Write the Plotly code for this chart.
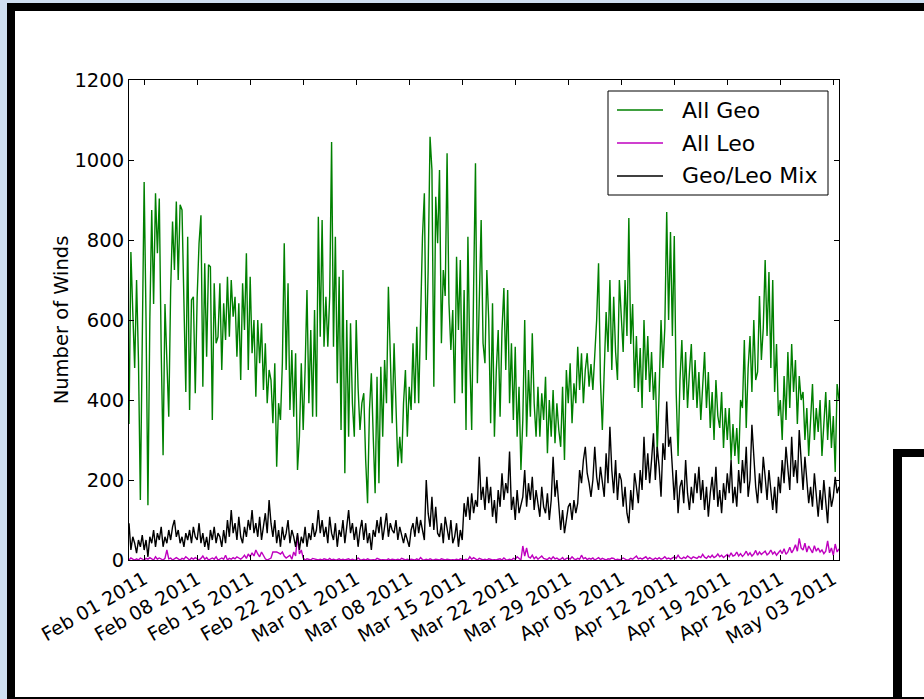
import pandas as pd
import plotly.graph_objects as go

# 6-hourly samples, Jan 30 2011 00:00 .. May 03 2011 18:00 (4 values per day)
start_date = "2011-01-30"

all_geo = [
    340, 770, 620, 480,   # Jan 30
    700, 500, 150, 640,   # Jan 31
    945, 600, 137, 600,   # Feb 01
    875, 640, 917, 767,
    904, 525, 262, 640,
    517, 358, 675, 846,
    725, 896, 700, 888,
    875, 617, 420, 808,
    375, 650, 658, 417,
    658, 792, 862, 433,   # Feb 08
    742, 508, 738, 733,
    350, 692, 542, 558,
    692, 475, 642, 550,
    708, 558, 700, 608,
    658, 508, 642, 450,
    692, 575, 767, 475,
    708, 517, 600, 408,   # Feb 15
    600, 492, 592, 425,
    542, 392, 475, 450,
    342, 492, 233, 392,
    350, 492, 792, 475,
    692, 375, 525, 358,
    517, 225, 308, 492,
    325, 475, 675, 392,   # Feb 22
    575, 358, 625, 358,
    858, 558, 850, 533,
    658, 533, 660, 1045,
    533, 808, 442, 708,
    325, 725, 217, 600,
    308, 592, 392, 308,
    600, 430, 325, 392,   # Mar 01
    417, 250, 142, 375,
    467, 308, 167, 458,
    192, 483, 308, 500,
    392, 683, 475, 342,
    542, 392, 233, 308,
    242, 392, 475, 308,
    433, 375, 542, 392,   # Mar 08
    583, 392, 575, 808,
    917, 500, 725, 1058,
    975, 433, 908, 792,
    975, 542, 725, 660,
    1017, 642, 525, 625,
    392, 758, 575, 750,
    417, 675, 325, 808,   # Mar 15
    508, 325, 675, 992,
    442, 675, 850, 542,
    492, 725, 600, 342,
    642, 308, 475, 575,
    358, 575, 680, 475,
    675, 392, 542, 350,
    533, 308, 433, 225,   # Mar 22
    350, 600, 308, 475,
    358, 567, 392, 308,
    433, 308, 417, 350,
    458, 267, 400, 308,
    425, 292, 392, 325,
    283, 433, 250, 475,
    392, 492, 342, 442,   # Mar 29
    392, 533, 425, 517,
    392, 475, 517, 433,
    490, 425, 508, 600,   # Apr 01
    742, 450, 325, 475,
    620, 520, 700, 475,
    658, 520, 450, 700,
    620, 520, 700, 560,   # Apr 05
    855, 540, 640, 430,
    560, 420, 530, 380,
    600, 450, 560, 420,
    520, 400, 470, 270,
    420, 600, 480, 580,
    870, 600, 820, 560,
    810, 420, 260, 450,   # Apr 12
    550, 400, 520, 380,
    470, 540, 400, 500,
    380, 470, 350, 430,
    520, 380, 470, 330,
    420, 300, 450, 360,
    330, 420, 280, 380,
    300, 380, 250, 340,   # Apr 19
    260, 330, 240, 400,
    380, 550, 330, 480,
    560, 420, 600, 450,
    470, 660, 500, 580,
    750, 560, 720, 480,
    700, 420, 540, 360,
    400, 300, 460, 350,   # Apr 26
    520, 380, 540, 420,
    500, 340, 460, 400,
    420, 300, 380, 260,
    360, 440, 300, 380,
    320, 400, 260, 350,   # May 01
    420, 300, 400, 280,
    360, 220, 440, 400,   # May 03
]

all_leo = [
    0, 5, 2, 0,     # Jan 30
    3, 0, 5, 2,
    0, 4, 2, 6,     # Feb 01
    3, 0, 8, 2,
    5, 2, 0, 4,
    25, 3, 5, 0,
    2, 6, 3, 0,
    4, 2, 8, 3,
    0, 5, 2, 6,
    3, 0, 4, 10,    # Feb 08
    2, 6, 0, 3,
    5, 2, 8, 0,
    3, 5, 2, 12,
    0, 4, 2, 6,
    3, 8, 5, 2,
    6, 12, 4, 15,
    8, 18, 10, 25,  # Feb 15
    15, 8, 20, 10,
    3, 0, 2, 5,
    20, 20, 20, 18,
    15, 20, 10, 5,
    8, 12, 2, 20,
    10, 62, 15, 25,
    5, 0, 3, 2,     # Feb 22
    0, 4, 2, 0,
    0, 2, 0, 3,
    1, 0, 4, 0,
    2, 0, 1, 3,
    0, 2, 0, 1,
    3, 0, 2, 0,
    0, 5, 1, 0,     # Mar 01
    2, 0, 3, 1,
    0, 1, 0, 4,
    2, 0, 1, 0,
    0, 3, 0, 2,
    1, 0, 2, 0,
    4, 1, 0, 2,
    0, 2, 1, 0,     # Mar 08
    3, 0, 6, 1,
    0, 2, 0, 3,
    1, 0, 2, 0,
    0, 3, 1, 0,
    2, 0, 0, 1,
    0, 2, 0, 3,
    1, 0, 2, 0,     # Mar 15
    8, 2, 6, 3,
    0, 4, 1, 0,
    2, 0, 3, 1,
    0, 1, 0, 2,
    3, 0, 5, 1,
    0, 2, 0, 4,
    2, 8, 3, 0,     # Mar 22
    35, 10, 30, 8,
    5, 12, 3, 8,
    2, 6, 10, 4,
    3, 1, 6, 2,
    8, 3, 5, 1,
    2, 6, 0, 4,
    5, 2, 8, 3,     # Mar 29
    1, 4, 2, 12,
    3, 6, 1, 4,
    2, 5, 0, 3,     # Apr 01
    6, 1, 4, 2,
    0, 3, 2, 5,
    4, 0, 2, 1,
    2, 5, 3, 0,     # Apr 05
    1, 4, 2, 6,
    10, 3, 5, 2,
    4, 8, 2, 6,
    3, 1, 5, 2,
    6, 2, 4, 8,
    3, 5, 2, 6,
    8, 4, 12, 5,    # Apr 12
    3, 7, 4, 10,
    6, 3, 8, 5,
    4, 9, 6, 14,
    7, 4, 10, 6,
    12, 6, 9, 15,
    8, 12, 6, 10,
    14, 8, 18, 10,  # Apr 19
    12, 20, 10, 16,
    9, 14, 22, 12,
    18, 10, 15, 24,
    12, 20, 14, 18,
    22, 13, 17, 25,
    15, 20, 12, 18,
    24, 16, 28, 14, # Apr 26
    20, 32, 18, 26,
    38, 22, 54, 30,
    25, 42, 20, 35,
    28, 18, 36, 22,
    30, 20, 25, 16, # May 01
    22, 48, 18, 30,
    12, 40, 20, 28, # May 03
]

geo_leo_mix = [
    92, 25, 58, 42,     # Jan 30
    17, 50, 33, 62,
    25, 50, 8, 58,      # Feb 01
    42, 75, 33, 67,
    50, 83, 33, 58,
    42, 75, 50, 83,
    100, 58, 75, 42,
    58, 33, 67, 50,
    75, 42, 83, 58,
    50, 92, 42, 67,     # Feb 08
    33, 58, 25, 75,
    50, 83, 42, 67,
    58, 33, 75, 42,
    100, 58, 125, 67,
    92, 50, 108, 58,
    42, 83, 58, 100,
    75, 125, 67, 92,    # Feb 15
    58, 108, 50, 83,
    117, 67, 150, 92,
    58, 100, 42, 75,
    33, 83, 50, 67,
    100, 42, 75, 58,
    33, 67, 25, 58,
    42, 83, 33, 67,     # Feb 22
    50, 92, 58, 75,
    125, 67, 100, 58,
    83, 42, 108, 67,
    50, 92, 33, 75,
    58, 100, 42, 83,
    125, 67, 92, 50,
    83, 33, 75, 100,    # Mar 01
    50, 92, 42, 67,
    25, 75, 58, 100,
    67, 108, 50, 83,
    117, 58, 92, 75,
    67, 100, 50, 83,
    58, 42, 67, 50,
    33, 75, 92, 58,     # Mar 08
    108, 67, 100, 75,
    50, 200, 117, 83,
    158, 75, 133, 67,
    58, 92, 42, 108,
    83, 50, 100, 42,
    58, 92, 33, 75,
    50, 142, 108, 158,  # Mar 15
    100, 167, 117, 150,
    133, 258, 150, 183,
    125, 208, 142, 183,
    108, 150, 92, 175,
    133, 217, 150, 192,
    167, 271, 125, 158,
    100, 175, 117, 142, # Mar 22
    158, 225, 133, 192,
    150, 208, 125, 175,
    142, 108, 183, 133,
    117, 167, 100, 150,
    258, 158, 200, 142,
    75, 125, 67, 100,
    133, 142, 100, 150, # Mar 29
    117, 142, 225, 192,
    250, 283, 217, 192,
    158, 200, 283, 208, # Apr 01
    175, 233, 192, 158,
    267, 192, 333, 225,
    167, 250, 150, 217,
    200, 133, 183, 117, # Apr 05
    92, 175, 125, 217,
    183, 142, 225, 175,
    308, 200, 267, 192,
    250, 317, 200, 283,
    233, 158, 292, 250,
    396, 283, 308, 225,
    150, 225, 117, 183, # Apr 12
    200, 142, 250, 167,
    125, 183, 142, 217,
    167, 233, 150, 200,
    125, 183, 108, 167,
    208, 150, 233, 133,
    175, 117, 192, 150,
    217, 167, 250, 142, # Apr 19
    183, 133, 225, 167,
    250, 192, 283, 158,
    200, 338, 250, 183,
    142, 217, 167, 258,
    208, 150, 225, 175,
    125, 183, 117, 208,
    167, 250, 192, 283, # Apr 26
    225, 175, 308, 208,
    250, 192, 325, 233,
    175, 258, 200, 142,
    183, 133, 217, 158,
    108, 175, 125, 200, # May 01
    150, 92, 183, 133,
    158, 208, 167, 183, # May 03
]

series_names = ["All Geo", "All Leo", "Geo/Leo Mix"]
series_colors = ["#008000", "#bf00bf", "black"]

tick_dates = ["2011-02-01", "2011-02-08", "2011-02-15", "2011-02-22", "2011-03-01",
              "2011-03-08", "2011-03-15", "2011-03-22", "2011-03-29", "2011-04-05",
              "2011-04-12", "2011-04-19", "2011-04-26", "2011-05-03"]
tick_labels = ["Feb 01 2011", "Feb 08 2011", "Feb 15 2011", "Feb 22 2011", "Mar 01 2011",
               "Mar 08 2011", "Mar 15 2011", "Mar 22 2011", "Mar 29 2011", "Apr 05 2011",
               "Apr 12 2011", "Apr 19 2011", "Apr 26 2011", "May 03 2011"]
y_ticks = [0, 200, 400, 600, 800, 1000, 1200]

n = len(all_geo)
assert n == len(all_leo) == len(geo_leo_mix)
times = pd.date_range(start_date, periods=n, freq="6h")

W, H = 924, 699
L, R, T, B = 129, 839, 80, 560  # plot area in pixels


def px(x):
    return (x - L) / (R - L)


def py(y):
    return (B - y) / (B - T)


fig = go.Figure()
for vals, name, col in zip([all_geo, all_leo, geo_leo_mix], series_names, series_colors):
    fig.add_trace(go.Scatter(x=times, y=vals, mode="lines", name=name,
                             line=dict(color=col, width=1.4), showlegend=False))

shapes = [
    # outer slide frame
    dict(type="rect", xref="paper", yref="paper", x0=px(7), x1=px(940), y0=py(3), y1=py(710),
         fillcolor="black", line=dict(width=0), layer="below"),
    dict(type="rect", xref="paper", yref="paper", x0=px(15), x1=px(940), y0=py(11), y1=py(697),
         fillcolor="white", line=dict(width=0), layer="below"),
    # second frame, bottom right
    dict(type="rect", xref="paper", yref="paper", x0=px(893), x1=px(940), y0=py(449), y1=py(697),
         fillcolor="black", line=dict(width=0), layer="below"),
    dict(type="rect", xref="paper", yref="paper", x0=px(902), x1=px(940), y0=py(457), y1=py(697),
         fillcolor="white", line=dict(width=0), layer="below"),
    # legend box
    dict(type="rect", xref="paper", yref="paper", x0=px(608), x1=px(828), y0=py(91), y1=py(195),
         fillcolor="white", line=dict(color="black", width=1), layer="above"),
]
annotations = []
legend_rows = [110, 143, 176]
for row_y, name, col in zip(legend_rows, series_names, series_colors):
    shapes.append(dict(type="line", xref="paper", yref="paper", x0=px(617), x1=px(663),
                       y0=py(row_y), y1=py(row_y), line=dict(color=col, width=1.4),
                       layer="above"))
    annotations.append(dict(xref="paper", yref="paper", x=px(680), y=py(row_y),
                            xanchor="left", yanchor="middle", text=name, showarrow=False,
                            font=dict(size=22, color="black", family="DejaVu Sans")))

fig.update_layout(
    width=W, height=H,
    margin=dict(l=L, r=W - R, t=T, b=H - B, pad=0),
    paper_bgcolor="#cfdff1",
    plot_bgcolor="white",
    font=dict(family="DejaVu Sans", size=19, color="black"),
    showlegend=False,
    shapes=shapes,
    annotations=annotations,
)
fig.update_xaxes(
    range=[times[0], times[-1]],
    tickvals=pd.to_datetime(tick_dates), ticktext=tick_labels, tickangle=-30,
    ticks="inside", ticklen=5, tickcolor="black",
    showline=True, linecolor="black", linewidth=1, mirror="ticks",
    showgrid=False, zeroline=False, tickfont=dict(size=19),
)
fig.update_yaxes(
    range=[0, 1200], tickvals=y_ticks,
    ticks="inside", ticklen=5, tickcolor="black",
    showline=True, linecolor="black", linewidth=1, mirror="ticks",
    showgrid=False, zeroline=False, tickfont=dict(size=19.5),
    title=dict(text="Number of Winds", font=dict(size=19.5), standoff=0),
)

fig.write_html(
    "out.html",
    config={"displayModeBar": False},
    post_script="document.body.style.margin='0px';document.body.style.overflow='hidden';",
)
